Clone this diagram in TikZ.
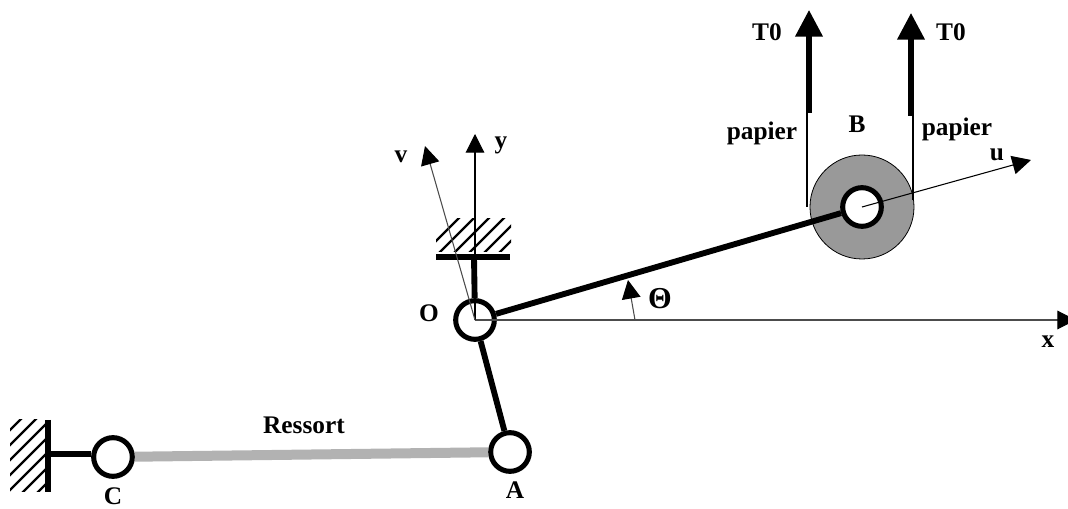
\documentclass[tikz,border=0pt]{standalone}
\usepackage{fontspec}
\setmainfont{Liberation Serif}
\usetikzlibrary{arrows.meta}
\definecolor{discGray}{gray}{0.6}
\definecolor{springGray}{gray}{0.7}
\tikzset{
  label/.style={font=\fontsize{19}{19}\selectfont\bfseries, inner sep=0pt},
  joint/.style={circle, draw, line width=3.8pt, fill=white, minimum size=29pt, inner sep=0pt},
  bar/.style={line width=4.4pt},
  thin axis/.style={line width=0.8pt, black!70, -{Triangle[length=14pt, width=14pt, black]}},
  hatch/.style={line width=1.7pt}
}
\begin{document}
\begin{tikzpicture}[x=0.75pt, y=-0.75pt, style={line cap = butt}]
  \useasboundingbox (0, 0) rectangle (1068, 509);

  % walls
  \begin{scope}
    \clip (436, 219) rectangle (511, 252);
    \foreach \i in {0, 1, ..., 7}
      \draw[hatch] (420 + 15*\i, 257) -- (462 + 15*\i, 215);
  \end{scope}
  \begin{scope}
    \clip (10, 420) rectangle (46, 492);
    \foreach \i in {0, 1, ..., 6}
      \draw[hatch] (0, 440 + 15*\i) -- (50, 390 + 15*\i);
  \end{scope}
  \coordinate (topwallL) at (436, 257);
  \coordinate (topwallR) at (510, 257);
  \coordinate (topwallM) at (474, 257);
  \coordinate (leftwallT) at (48, 420);
  \coordinate (leftwallB) at (48, 492);
  \coordinate (leftwallM) at (48, 454);
  \draw[line width=4pt] (topwallL) -- (topwallR);
  \draw[line width=4pt] (leftwallT) -- (leftwallB);

  % disc and joints
  \node[circle, draw, line width=0.6pt, fill=discGray, minimum size=78pt, inner sep=0pt] (disc) at (862, 207) {};
  \node[joint] (O) at (475, 320) {};
  \node[joint] (A) at (510, 452) {};
  \node[joint] (B) at (862, 207) {};
  \node[joint] (C) at (113, 457) {};

  % bars
  \draw[bar] (topwallM) -- (O);
  \draw[bar] (O) -- (A);
  \draw[bar] (O) -- (B);
  \draw[line width=4pt] (leftwallM) -- (C.west |- leftwallM);
  \draw[line width=7.5pt, springGray] (C) -- (A);

  % axes
  \coordinate (xtip) at (1076, 320);
  \coordinate (ytip) at (475, 134);
  \coordinate (vtip) at (425, 146);
  \coordinate (utip) at (1031, 160);
  \coordinate (thetabase) at (635, 320);
  \coordinate (thetatip) at (628, 280);
  \draw[thin axis] (O.center) -- (xtip);
  \draw[thin axis, black] (O.center) -- (ytip);
  \draw[thin axis] (O.center) -- (vtip);
  \draw[thin axis, black] (B.center) -- (utip);
  \draw[thin axis] (thetabase) -- (thetatip);

  % paper and tension
  \coordinate (paperL) at (807, 207);
  \coordinate (paperR) at (913, 200);
  \coordinate (tensionL) at (809, 113);
  \coordinate (tensionR) at (911, 116);
  \coordinate (tipL) at (809, 10);
  \coordinate (tipR) at (911, 13);
  \draw[line width=0.8pt] (paperL) -- (paperL |- tensionL);
  \draw[line width=0.8pt] (paperR) -- (paperR |- tensionR);
  \draw[line width=3.8pt, -{Triangle[length=20pt, width=20pt]}] (tensionL) -- (tipL);
  \draw[line width=3.8pt, -{Triangle[length=20pt, width=20pt]}] (tensionR) -- (tipR);

  % labels
  \node[label] (t0L) at (767, 32) {T0};
  \node[label] (t0R) at (951, 32) {T0};
  \node[label] (papierL) at (762, 133) {papier};
  \node[label] (papierR) at (957, 129) {papier};
  \node[label] (labB) at (857, 124) {B};
  \node[label] (labu) at (997, 155) {u};
  \node[label] (labv) at (401, 157) {v};
  \node[label] (laby) at (501, 145) {y};
  \node[label] (labO) at (429, 313) {O};
  \node[label, scale=1.2] (labTheta) at (660, 299) {Θ};
  \node[label] (labx) at (1048, 342) {x};
  \node[label] (labRessort) at (304, 425) {Ressort};
  \node[label] (labC) at (113, 496) {C};
  \node[label] (labA) at (515, 490) {A};
\end{tikzpicture}
\end{document}
